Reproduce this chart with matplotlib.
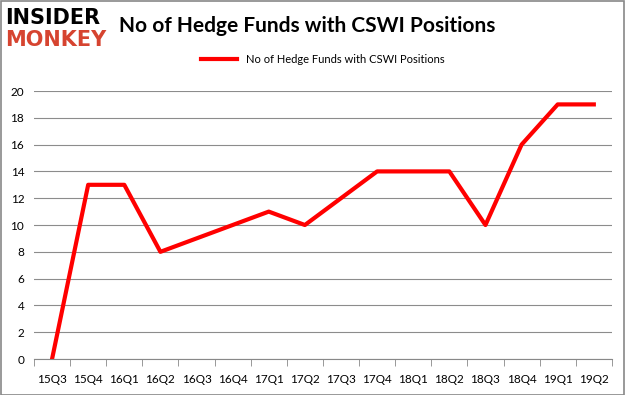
import matplotlib.pyplot as plt
from matplotlib.patches import Rectangle

plt.rcParams['font.family'] = ['Lato', 'DejaVu Sans']

quarters = ['15Q3', '15Q4', '16Q1', '16Q2', '16Q3', '16Q4', '17Q1', '17Q2',
            '17Q3', '17Q4', '18Q1', '18Q2', '18Q3', '18Q4', '19Q1', '19Q2']
funds = [0, 13, 13, 8, 9, 10, 11, 10, 12, 14, 14, 14, 10, 16, 19, 19]
series_name = 'No of Hedge Funds with CSWI Positions'

fig = plt.figure(figsize=(6.25, 3.95), dpi=100)
fig.patches.append(Rectangle((0.001, 0.001), 0.998, 0.997, transform=fig.transFigure,
                             fill=False, edgecolor='#888888', linewidth=1.2))

ax = fig.add_axes([0.0544, 0.0911, 0.9246, 0.6785])
x = list(range(len(quarters)))
ax.plot(x, funds, color='#ff0000', linewidth=3, label=series_name)

ax.set_xlim(-0.5, len(quarters) - 0.5)
ax.set_ylim(0, 20)
ax.set_yticks(range(0, 21, 2))
ax.set_xticks(x)
ax.set_xticklabels(quarters)
ax.set_xticks([i - 0.5 for i in range(len(quarters) + 1)], minor=True)
ax.tick_params(axis='x', which='major', length=0, pad=11, labelsize=8.5)
ax.tick_params(axis='x', which='minor', length=5, color='#888888')
ax.tick_params(axis='y', length=0, labelsize=8.5, pad=7)
ax.grid(axis='y', color='#8c8c8c', linewidth=0.8)
ax.set_axisbelow(True)
for side in ['top', 'right', 'left']:
    ax.spines[side].set_visible(False)
ax.spines['bottom'].set_color('#888888')

ax.legend(loc='lower center', bbox_to_anchor=(0.5, 1.06), frameon=False,
          fontsize=8, handlelength=3.2)

fig.text(0.19, 0.935, 'No of Hedge Funds with CSWI Positions', fontsize=15,
         fontweight='bold', va='center', ha='left')
fig.text(0.008, 0.955, 'INSIDER', fontsize=15, fontweight='black', color='black',
         va='center', ha='left', family='DejaVu Sans')
fig.text(0.008, 0.9, 'MONKEY', fontsize=15, fontweight='black', color='#d64430',
         va='center', ha='left', family='DejaVu Sans')

fig.savefig('out.png', dpi=100)
